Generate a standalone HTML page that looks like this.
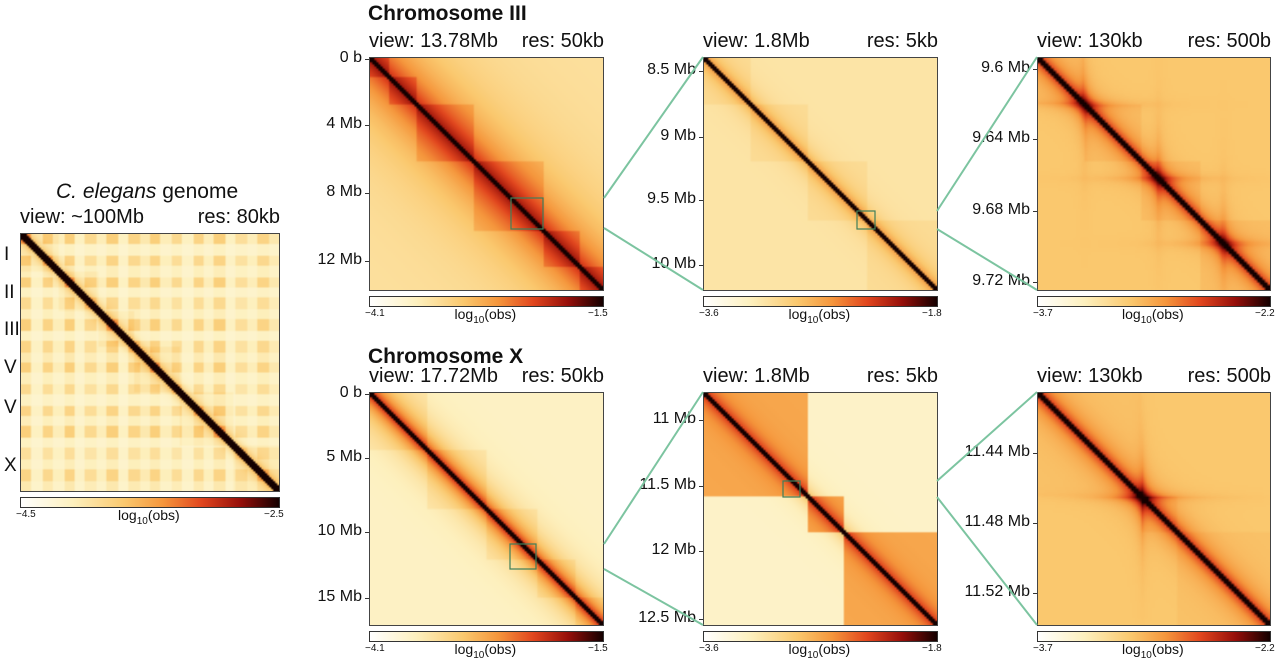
<!DOCTYPE html>
<html><head><meta charset="utf-8">
<style>
body{margin:0;width:1280px;height:667px;background:#fff;position:relative;overflow:hidden;font-family:"Liberation Sans",sans-serif;color:#111}
.abs{position:absolute;white-space:nowrap}
.hdr{font-family:"Liberation Sans Narrow","Liberation Sans",sans-serif;font-size:20px;top:0}
.tl{font-size:16px;text-align:right;width:80px}
.cb{position:absolute;height:9px;border:1px solid #333;background:linear-gradient(to right,#fff 0%,#fdf0be 20%,#fac86e 40%,#f5963c 55%,#e1461e 70%,#960f0a 85%,#140000 100%)}
.cbl{font-size:10px}
.cbt{font-size:14px}
.title{font-weight:bold;font-size:21px}
canvas{position:absolute;border:1px solid #444;box-sizing:border-box}
</style></head><body>
<div class="abs" style="left:56px;top:180px;font-size:21px"><i>C. elegans</i> genome</div>
<div class="abs hdr" style="left:20px;top:206px">view: ~100Mb</div>
<div class="abs hdr" style="left:196px;top:206px;width:84px;text-align:right">res: 80kb</div>
<div class="abs title" style="left:368px;top:2px">Chromosome III</div>
<div class="abs title" style="left:368px;top:345px">Chromosome X</div>
<svg id="lines" width="1280" height="667" style="position:absolute;left:0;top:0;z-index:2"></svg>
<div id="root"></div>
<script>
// ---- data ----
const genomeBounds=[0,0.15,0.303,0.44,0.617,0.824,1];
const genomeProfile=[0.9,0.2,0.8,0.3,0.9,0.2,0.7,0.3,0.9,0.2,0.8,0.4,0.9,0.3,0.7,0.2,0.8,0.3,0.9,0.2,0.6,0.3,0.8,0.4];
const chrLabels=["I","II","III","V","V","X"];
const chrLabelY=[255,293,330,368,408,466];
const chr3Bounds=[0,0.08,0.2,0.45,0.75,0.9,1];
const chr3zBounds=[0,0.2,0.45,0.7,1];
const chrXBounds=[0,0.25,0.5,0.72,0.88,1];
const chrXzBounds=[0,0.45,0.6,1];
const chr3zzCross=[0.2,0.52,0.8];
const chrXzzCross=[0.45];
const panelTicks={
 p1:["0 b","4 Mb","8 Mb","12 Mb"],p2:["8.5 Mb","9 Mb","9.5 Mb","10 Mb"],p3:["9.6 Mb","9.64 Mb","9.68 Mb","9.72 Mb"],
 p4:["0 b","5 Mb","10 Mb","15 Mb"],p5:["11 Mb","11.5 Mb","12 Mb","12.5 Mb"],p6:["11.44 Mb","11.48 Mb","11.52 Mb"]};
const tickFrac={p1:[0.01,0.29,0.58,0.87],p2:[0.06,0.34,0.61,0.89],p3:[0.05,0.35,0.66,0.96],p4:[0.01,0.28,0.6,0.88],p5:[0.12,0.4,0.68,0.97],p6:[0.26,0.56,0.86]};
const cbMin={g:"\u22124.5",p1:"\u22124.1",p2:"\u22123.6",p3:"\u22123.7",p4:"\u22124.1",p5:"\u22123.6",p6:"\u22123.7"};
const cbMax={g:"\u22122.5",p1:"\u22121.5",p2:"\u22121.8",p3:"\u22122.2",p4:"\u22121.5",p5:"\u22121.8",p6:"\u22122.2"};
const viewTxt={p1:"view: 13.78Mb",p2:"view: 1.8Mb",p3:"view: 130kb",p4:"view: 17.72Mb",p5:"view: 1.8Mb",p6:"view: 130kb"};
const resTxt={p1:"res: 50kb",p2:"res: 5kb",p3:"res: 500b",p4:"res: 50kb",p5:"res: 5kb",p6:"res: 500b"};

const stops=[[0,255,255,255],[0.2,253,240,190],[0.4,250,200,110],[0.55,245,150,60],[0.7,225,70,30],[0.85,150,15,10],[1,20,0,0]];
function cmap(t){t=Math.max(0,Math.min(1,t));for(let i=1;i<stops.length;i++){if(t<=stops[i][0]){const a=stops[i-1],b=stops[i],f=(t-a[0])/(b[0]-a[0]);return [a[1]+f*(b[1]-a[1]),a[2]+f*(b[2]-a[2]),a[3]+f*(b[3]-a[3])];}}return [20,0,0];}
function dom(b,x){for(let i=1;i<b.length;i++)if(x<b[i])return i-1;return b.length-2;}
function prof(x){return genomeProfile[Math.min(genomeProfile.length-1,Math.floor(x*genomeProfile.length))];}

function genomeVal(x,y){const d=Math.abs(x-y);
 if(d<0.022)return 1;
 let v=0.14+0.28*prof(x)*prof(y)+0.6*Math.exp(-d/0.02);
 if(dom(genomeBounds,x)===dom(genomeBounds,y))v+=0.04;
 return v;}
function makeVal(bounds,o){return function(x,y){const d=Math.abs(x-y);
 if(d<o.diag)return 1;
 let v=o.bg+o.band*Math.exp(-d/o.decay);
 if(dom(bounds,x)===dom(bounds,y))v+=o.dom;
 if(o.cross)for(const c of o.cross){v+=o.cw*Math.exp(-Math.abs(x-c)/0.02)*Math.exp(-Math.abs(y-c)/0.15)+o.cw*Math.exp(-Math.abs(y-c)/0.02)*Math.exp(-Math.abs(x-c)/0.15);}
 return v;};}

const panels=[
 {id:"g",x:20,y:233,w:260,h:259,n:130,f:genomeVal},
 {id:"p1",x:369,y:57,w:235,h:234,n:110,f:makeVal(chr3Bounds,{diag:0.014,bg:0.28,band:0.5,decay:0.2,dom:0.08})},
 {id:"p2",x:703,y:57,w:235,h:234,n:110,f:makeVal(chr3zBounds,{diag:0.011,bg:0.26,band:0.3,decay:0.05,dom:0.04})},
 {id:"p3",x:1037,y:57,w:234,h:234,n:90,f:makeVal(chr3zBounds,{diag:0.014,bg:0.4,band:0.4,decay:0.05,dom:0.03,cross:chr3zzCross,cw:0.2})},
 {id:"p4",x:369,y:392,w:235,h:234,n:110,f:makeVal(chrXBounds,{diag:0.014,bg:0.18,band:0.6,decay:0.08,dom:0.05})},
 {id:"p5",x:703,y:392,w:235,h:234,n:110,f:makeVal(chrXzBounds,{diag:0.011,bg:0.17,band:0.3,decay:0.05,dom:0.33})},
 {id:"p6",x:1037,y:392,w:234,h:234,n:90,f:makeVal(chrXzBounds,{diag:0.016,bg:0.4,band:0.4,decay:0.06,dom:0.02,cross:chrXzzCross,cw:0.25})}
];
const root=document.getElementById('root');
panels.forEach(p=>{
 const c=document.createElement('canvas');
 
 
 c.width=p.n;c.height=p.n;c.style.left=p.x+'px';c.style.top=p.y+'px';c.style.width=p.w+'px';c.style.height=p.h+'px';
 const ctx=c.getContext('2d');const im=ctx.createImageData(p.n,p.n);
 for(let j=0;j<p.n;j++)for(let i=0;i<p.n;i++){const col=cmap(p.f((i+0.5)/p.n,(j+0.5)/p.n));const k=(j*p.n+i)*4;im.data[k]=col[0];im.data[k+1]=col[1];im.data[k+2]=col[2];im.data[k+3]=255;}
 ctx.putImageData(im,0,0);root.appendChild(c);
 const cb=document.createElement('div');cb.className='cb';
 
 
 cb.style.left=p.x+'px';cb.style.top=(p.y+p.h+5)+'px';cb.style.width=(p.w-2)+'px';root.appendChild(cb);
 const l1=document.createElement('div');l1.className='abs cbl';l1.textContent=cbMin[p.id];
 
 
 l1.style.left=(p.x-4)+'px';l1.style.top=(p.y+p.h+17)+'px';root.appendChild(l1);
 const l2=document.createElement('div');l2.className='abs cbl';l2.textContent=cbMax[p.id];
 
 
 l2.style.left=(p.x+p.w-16)+'px';l2.style.top=(p.y+p.h+17)+'px';root.appendChild(l2);
 const l3=document.createElement('div');l3.className='abs cbt';l3.innerHTML='log<sub style="font-size:10px">10</sub>(obs)';
 
 
 l3.style.left=(p.x+p.w/2-32)+'px';l3.style.top=(p.y+p.h+15)+'px';root.appendChild(l3);
 if(p.id!=='g'){
  const v=document.createElement('div');v.className='abs hdr';v.textContent=viewTxt[p.id];
  
  
  v.style.left=p.x+'px';v.style.top=(p.y-27)+'px';root.appendChild(v);
  const r=document.createElement('div');r.className='abs hdr';r.textContent=resTxt[p.id];
  
  
  r.style.left=(p.x+p.w-120)+'px';r.style.width='120px';r.style.textAlign='right';r.style.top=(p.y-27)+'px';root.appendChild(r);
  panelTicks[p.id].forEach((t,i)=>{const y=p.y+tickFrac[p.id][i]*p.h;
   const d=document.createElement('div');d.className='abs tl';d.textContent=t;
   
   
   d.style.left=(p.x-87)+'px';d.style.top=(y-10)+'px';root.appendChild(d);
   const m=document.createElement('div');m.className='abs';
   
   
   m.style.cssText+='left:'+(p.x-4)+'px;top:'+y+'px;width:4px;height:1px;background:#333';root.appendChild(m);});
 }
});
chrLabels.forEach((t,i)=>{const d=document.createElement('div');d.className='abs';d.textContent=t;
 
 
 d.style.cssText+='left:4px;top:'+(chrLabelY[i]-11)+'px;font-size:19px;';root.appendChild(d);});
const svg=document.getElementById('lines');
const boxes=[[511,198,32,31],[857,211,18,18],[510,544,26,25],[783,481,17,16]];
const conns=[[604,198,703,57],[604,228,703,290],[937,211,1037,57],[937,229,1037,290],[604,544,703,392],[604,569,703,625],[937,481,1037,392],[937,497,1037,625]];
let s='';
boxes.forEach(b=>{s+=`<rect x="${b[0]}" y="${b[1]}" width="${b[2]}" height="${b[3]}" fill="none" stroke="#3f7f5a" stroke-width="1.2"/>`;});
conns.forEach(c=>{s+=`<line x1="${c[0]}" y1="${c[1]}" x2="${c[2]}" y2="${c[3]}" stroke="#7cc4a0" stroke-width="2"/>`;});
svg.innerHTML=s;
</script>
</body></html>
